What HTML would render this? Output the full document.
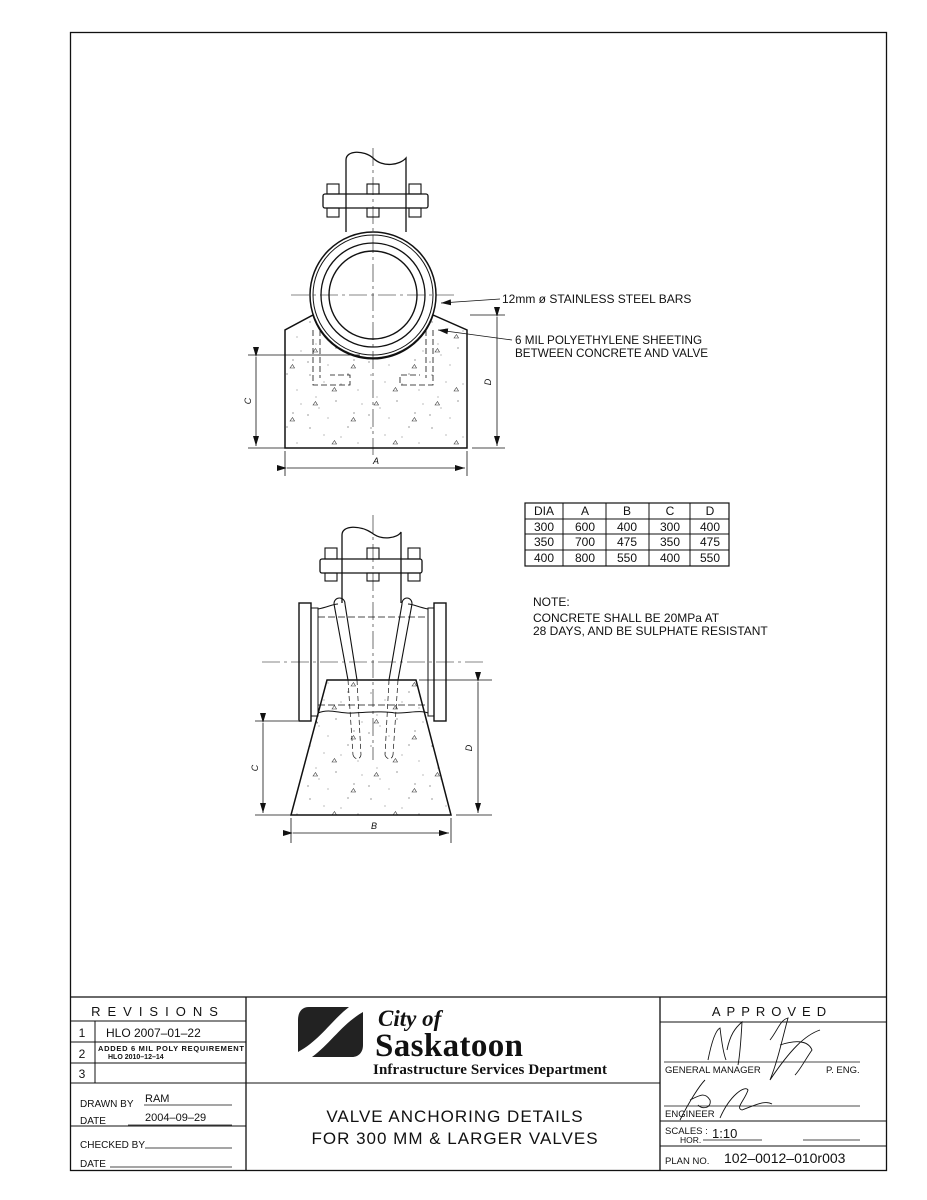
<!DOCTYPE html>
<html><head><meta charset="utf-8"><style>
html,body{margin:0;padding:0;background:#fff}
svg{display:block}
text{font-family:"Liberation Sans",sans-serif;fill:#111}
.s{font-family:"Liberation Serif",serif;font-weight:bold}
</style></head><body>
<svg width="927" height="1200" viewBox="0 0 927 1200" xmlns="http://www.w3.org/2000/svg">
<defs>
<pattern id="st" width="61" height="53" patternUnits="userSpaceOnUse">
<circle cx="5" cy="4" r="0.6" fill="#555"/><circle cx="19" cy="11" r="0.5" fill="#555"/><circle cx="43" cy="3" r="0.6" fill="#555"/>
<circle cx="11" cy="26" r="0.5" fill="#555"/><circle cx="31" cy="30" r="0.6" fill="#555"/><circle cx="53" cy="19" r="0.5" fill="#555"/>
<circle cx="3" cy="44" r="0.6" fill="#555"/><circle cx="23" cy="47" r="0.5" fill="#555"/><circle cx="49" cy="42" r="0.6" fill="#555"/>
<circle cx="36" cy="13" r="0.5" fill="#555"/><circle cx="57" cy="33" r="0.5" fill="#555"/><circle cx="14" cy="37" r="0.5" fill="#555"/>
<path d="M27 20 l2.5 -3.5 l2 3.5z M8 34 l2.5 -3.5 l2 3.5z M46 50 l2.5 -3.5 l2 3.5z" fill="none" stroke="#333" stroke-width="0.6"/>
</pattern>
<marker id="ar" markerWidth="10" markerHeight="6" refX="10" refY="3" orient="auto" markerUnits="userSpaceOnUse"><path d="M0 0 L10 3 L0 6z" fill="#111"/></marker>
</defs>
<g fill="none" stroke="#111">
<rect x="70.5" y="32.5" width="816" height="1138" stroke-width="1.3"/>

<path d="M285 448 V330 L313 315 A63 63 0 0 0 433 315 L467 330 V448 Z" fill="url(#st)" stroke-width="1.5"/>
<path d="M346 232 V160 C346 150 364 150 373 158 C383 168 400 165 406 158 V232" stroke-width="1.3"/>
<rect x="323" y="194" width="105" height="14" rx="2" stroke-width="1.3"/>
<g stroke-width="1.1">
<rect x="327" y="184" width="12" height="10"/><rect x="367" y="184" width="12" height="10"/><rect x="409" y="184" width="12" height="10"/>
<rect x="327" y="208" width="12" height="9"/><rect x="367" y="208" width="12" height="9"/><rect x="409" y="208" width="12" height="9"/>
</g>
<circle cx="373" cy="295" r="63" stroke-width="1.5" fill="#fff"/>
<circle cx="373" cy="295" r="60" stroke-width="1"/>
<circle cx="373" cy="295" r="52" stroke-width="1.3"/>
<circle cx="373" cy="295" r="44" stroke-width="1.4"/>
<path d="M373 148 V455 M291 295 H455" stroke-width="0.6" stroke-dasharray="18 4 3 4"/>
<path d="M313 330 V385 H350 V375 H330 M320 330 V378 M433 330 V385 H400 V375 H420 M426 330 V378" stroke-width="0.8" stroke-dasharray="6 3"/>
<path d="M500 299 L441 303" stroke-width="0.8" marker-end="url(#ar)"/>
<path d="M512 340 L438 330" stroke-width="0.8" marker-end="url(#ar)"/>
<path d="M248 355 H360 M248 448 H285 M470 315 H505 M472 448 H505" stroke-width="0.8"/>
<path d="M256 357 V446" stroke-width="0.8" marker-start="url(#ar)" marker-end="url(#ar)"/>
<path d="M497 317 V446" stroke-width="0.8" marker-start="url(#ar)" marker-end="url(#ar)"/>
<path d="M285 451 V476 M467 451 V476" stroke-width="0.8"/>
<path d="M287 468 H465" stroke-width="0.8" marker-start="url(#ar)" marker-end="url(#ar)"/>

<path d="M327 680 H416 L451 815 H291 Z" fill="url(#st)" stroke-width="1.5"/>
<path d="M342 603 V535 C342 525 360 525 372 533 C382 541 398 538 401 532 V603" stroke-width="1.3"/>
<rect x="320" y="559" width="102" height="14" rx="2" stroke-width="1.3"/>
<g stroke-width="1.1">
<rect x="325" y="548" width="12" height="11"/><rect x="367" y="548" width="12" height="11"/><rect x="408" y="548" width="12" height="11"/>
<rect x="325" y="573" width="12" height="8"/><rect x="367" y="573" width="12" height="8"/><rect x="408" y="573" width="12" height="8"/>
</g>
<rect x="299" y="603" width="12" height="118" stroke-width="1.4" fill="#fff"/>
<rect x="434" y="603" width="12" height="118" stroke-width="1.4" fill="#fff"/>
<path d="M311 608 H318 V716 H311 M434 608 H428 V716 H434" stroke-width="1"/>
<path d="M318 609 C328 607 333 604 338 604 M408 604 C413 604 418 607 428 609 M318 713 C330 708 340 714 352 713 C370 712 385 711 395 713 C410 713 420 710 428 713" stroke-width="1"/>
<path d="M318 617 H428 M318 705 H428 M318 609 V716 M428 609 V716" stroke-width="0.7" stroke-dasharray="7 3"/>
<path d="M373 515 V760 M262 662 H484" stroke-width="0.6" stroke-dasharray="18 4 3 4"/>
<path d="M334 604 L348 680 M345 604 L357 680 M334 604 C334 596 345 596 345 604 M412 604 L398 680 M402 604 L389 680 M402 604 C402 596 412 596 412 604" stroke-width="1.1"/>
<path d="M348 680 L353 755 M357 680 L361 755 M353 755 C355 760 360 760 361 755 M398 680 L393 755 M389 680 L385 755 M385 755 C387 760 392 760 393 755" stroke-width="0.7" stroke-dasharray="5 3"/>
<path d="M255 721 H298 M255 815 H291 M419 680 H492 M456 815 H492" stroke-width="0.8"/>
<path d="M263 723 V813" stroke-width="0.8" marker-start="url(#ar)" marker-end="url(#ar)"/>
<path d="M478 682 V813" stroke-width="0.8" marker-start="url(#ar)" marker-end="url(#ar)"/>
<path d="M291 818 V843 M451 818 V843" stroke-width="0.8"/>
<path d="M293 833 H449" stroke-width="0.8" marker-start="url(#ar)" marker-end="url(#ar)"/>

<rect x="525" y="503" width="204" height="63" stroke-width="1.2"/>
<path d="M525 519 H729 M525 534 H729 M525 550 H729 M563 503 V566 M606 503 V566 M649 503 V566 M690 503 V566" stroke-width="1"/>

<path d="M70 997 H886 M246 997 V1170 M660 997 V1170" stroke-width="1.3"/>
<path d="M70 1021 H246 M70 1042 H246 M70 1063 H246 M70 1083 H660 M70 1126 H246 M95 1021 V1083" stroke-width="1"/>
<path d="M660 1022 H886 M660 1121 H886 M660 1146 H886" stroke-width="1"/>
<path d="M664 1062 H860 M664 1106 H860" stroke-width="0.8"/>
<path d="M144 1105 H232 M128 1125 H232 M145 1148 H232 M110 1167 H232 M703 1140 H762 M803 1140 H860" stroke-width="0.8"/>
<path d="M708 1060 C712 1040 716 1030 720 1028 C722 1045 724 1055 726 1060 M727 1050 C730 1035 735 1028 742 1022 C741 1040 740 1055 738 1065 M770 1040 C778 1030 780 1020 788 1018 C782 1040 778 1060 770 1080 C790 1050 805 1035 820 1030 M780 1045 C795 1040 808 1040 812 1050 C805 1060 800 1070 795 1075" stroke-width="0.9"/>
<path d="M680 1120 C690 1100 700 1085 705 1080 M690 1100 C700 1095 705 1092 710 1100 C712 1108 702 1110 698 1105 M720 1118 C730 1095 745 1085 748 1090 C745 1100 735 1108 742 1110 C755 1105 765 1100 772 1104" stroke-width="0.9"/>
</g>

<path d="M309 1007 H349 C332 1020 320 1040 298 1052 V1020 C298 1012 302 1007 309 1007Z" fill="#222"/>
<path d="M352 1057 H312 C330 1044 342 1024 363 1012 V1045 C363 1052 359 1057 352 1057Z" fill="#222"/>

<g font-size="11">
<text x="502" y="303" font-size="12">12mm ø STAINLESS STEEL BARS</text>
<text x="515" y="344" font-size="11.7">6 MIL POLYETHYLENE SHEETING</text>
<text x="515" y="357" font-size="11.7">BETWEEN CONCRETE AND VALVE</text>
<text x="376" y="464" font-style="italic" font-size="9" text-anchor="middle">A</text>
<text x="374" y="829" font-style="italic" font-size="9" text-anchor="middle">B</text>
<text transform="translate(251,401) rotate(-90)" font-style="italic" font-size="9" text-anchor="middle">C</text>
<text transform="translate(491,382) rotate(-90)" font-style="italic" font-size="9" text-anchor="middle">D</text>
<text transform="translate(258,768) rotate(-90)" font-style="italic" font-size="9" text-anchor="middle">C</text>
<text transform="translate(472,748) rotate(-90)" font-style="italic" font-size="9" text-anchor="middle">D</text>
<g font-size="12" text-anchor="middle">
<text x="544" y="515">DIA</text><text x="585" y="515">A</text><text x="627" y="515">B</text><text x="670" y="515">C</text><text x="710" y="515">D</text>
<text x="544" y="531">300</text><text x="585" y="531">600</text><text x="627" y="531">400</text><text x="670" y="531">300</text><text x="710" y="531">400</text>
<text x="544" y="546">350</text><text x="585" y="546">700</text><text x="627" y="546">475</text><text x="670" y="546">350</text><text x="710" y="546">475</text>
<text x="544" y="562">400</text><text x="585" y="562">800</text><text x="627" y="562">550</text><text x="670" y="562">400</text><text x="710" y="562">550</text>
</g>
<text x="533" y="606" font-size="12">NOTE:</text>
<text x="533" y="622" font-size="12">CONCRETE SHALL BE 20MPa AT</text>
<text x="533" y="635" font-size="12">28 DAYS, AND BE SULPHATE RESISTANT</text>

<text x="158" y="1016" font-size="13" text-anchor="middle" letter-spacing="7">REVISIONS</text>
<text x="82" y="1037" font-size="12" text-anchor="middle">1</text>
<text x="82" y="1058" font-size="12" text-anchor="middle">2</text>
<text x="82" y="1078" font-size="12" text-anchor="middle">3</text>
<text x="106" y="1037" font-size="12">HLO   2007–01–22</text>
<text x="98" y="1051" font-size="7.5" font-weight="bold" textLength="146">ADDED 6 MIL POLY REQUIREMENT</text>
<text x="108" y="1059" font-size="7" font-weight="bold">HLO        2010–12–14</text>
<text x="80" y="1107" font-size="10">DRAWN BY</text><text x="145" y="1102" font-size="11">RAM</text>
<text x="80" y="1124" font-size="10">DATE</text><text x="145" y="1121" font-size="11">2004–09–29</text>
<text x="80" y="1148" font-size="10">CHECKED BY</text>
<text x="80" y="1167" font-size="10">DATE</text>

<text x="378" y="1026" class="s" font-style="italic" font-size="23">City of</text>
<text x="375" y="1056" class="s" font-size="33" textLength="148">Saskatoon</text>
<text x="373" y="1074" class="s" font-size="15" textLength="234">Infrastructure Services Department</text>

<text x="455" y="1122" font-size="17" text-anchor="middle" letter-spacing="1">VALVE ANCHORING DETAILS</text>
<text x="455" y="1144" font-size="17" text-anchor="middle" letter-spacing="1">FOR 300 MM &amp; LARGER VALVES</text>

<text x="772" y="1016" font-size="13" text-anchor="middle" letter-spacing="6">APPROVED</text>
<text x="665" y="1073" font-size="9.5">GENERAL MANAGER</text>
<text x="826" y="1073" font-size="9.5">P. ENG.</text>
<text x="665" y="1117" font-size="9.5">ENGINEER</text>
<text x="665" y="1134" font-size="9.5">SCALES :</text>
<text x="680" y="1143" font-size="8.5">HOR.</text>
<text x="712" y="1138" font-size="13">1:10</text>
<text x="665" y="1164" font-size="9.5">PLAN NO.</text>
<text x="724" y="1163" font-size="14">102–0012–010r003</text>
</g>
</svg>
</body></html>
